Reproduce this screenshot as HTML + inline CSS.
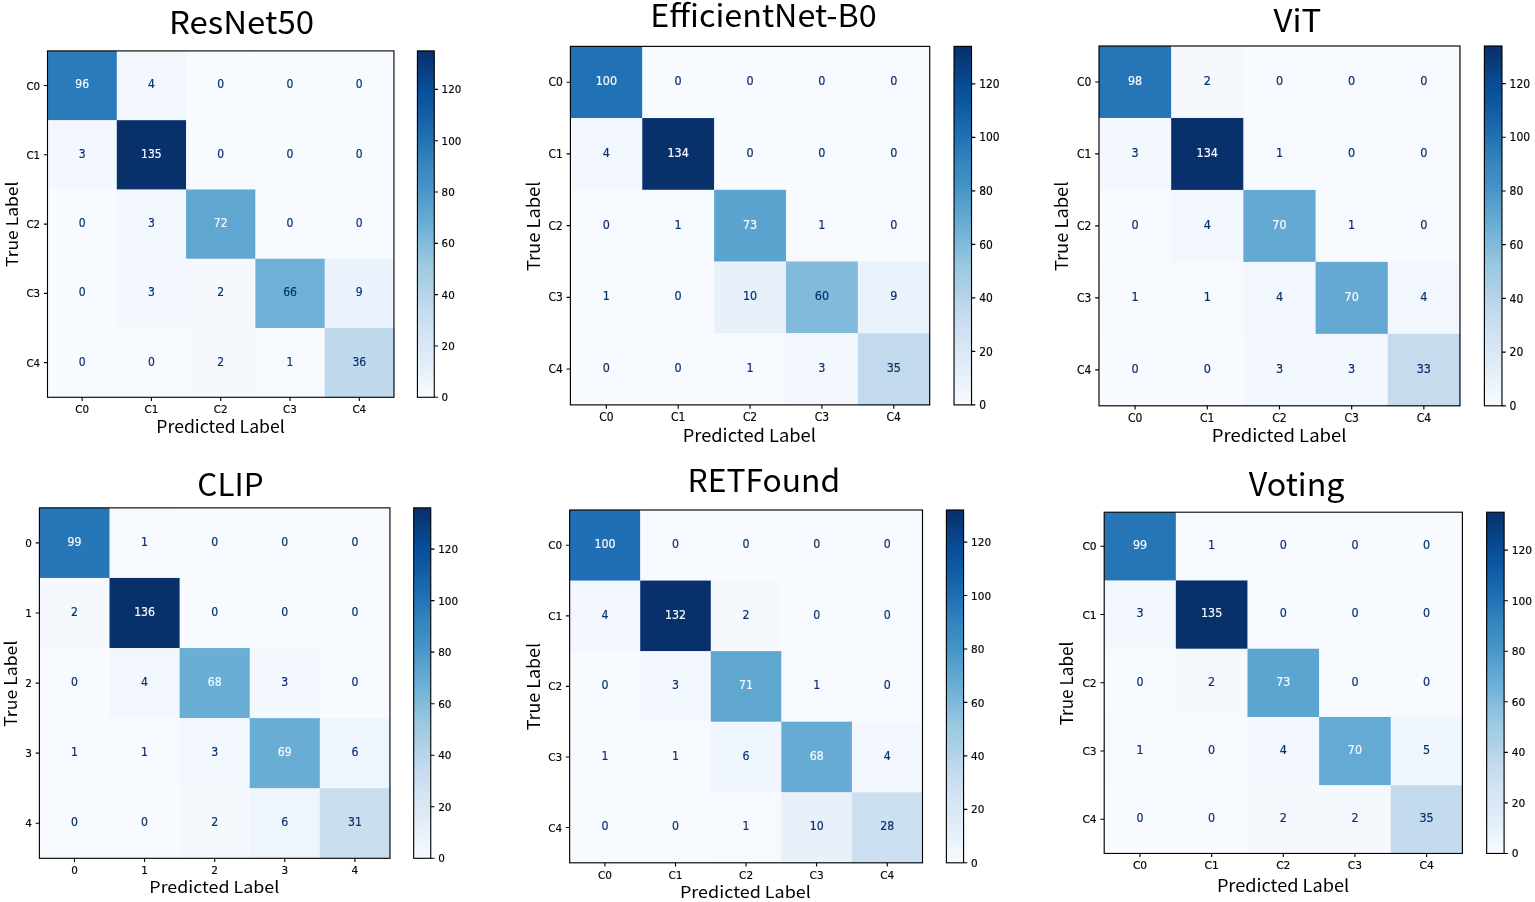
<!DOCTYPE html>
<html><head><meta charset="utf-8"><title>Confusion matrices</title>
<style>html,body{margin:0;padding:0;background:#fff;}svg{display:block;}</style>
</head><body>
<svg width="1535" height="902" viewBox="0 0 1535 902">
<defs><linearGradient id="cbg" x1="0" y1="0" x2="0" y2="1"><stop offset="0" stop-color="#08306b"/><stop offset="0.03" stop-color="#083776"/><stop offset="0.06" stop-color="#084082"/><stop offset="0.09" stop-color="#08488e"/><stop offset="0.12" stop-color="#08509b"/><stop offset="0.16" stop-color="#0e58a2"/><stop offset="0.19" stop-color="#1460a8"/><stop offset="0.22" stop-color="#1a68ae"/><stop offset="0.25" stop-color="#2070b4"/><stop offset="0.28" stop-color="#2979b9"/><stop offset="0.31" stop-color="#3181bd"/><stop offset="0.34" stop-color="#3989c1"/><stop offset="0.38" stop-color="#4191c6"/><stop offset="0.41" stop-color="#4b98ca"/><stop offset="0.44" stop-color="#56a0ce"/><stop offset="0.47" stop-color="#60a7d2"/><stop offset="0.5" stop-color="#6aaed6"/><stop offset="0.53" stop-color="#77b5d9"/><stop offset="0.56" stop-color="#84bcdb"/><stop offset="0.59" stop-color="#91c3de"/><stop offset="0.62" stop-color="#9dcae1"/><stop offset="0.66" stop-color="#a8cee4"/><stop offset="0.69" stop-color="#b2d2e8"/><stop offset="0.72" stop-color="#bcd7eb"/><stop offset="0.75" stop-color="#c6dbef"/><stop offset="0.78" stop-color="#ccdff1"/><stop offset="0.81" stop-color="#d2e3f3"/><stop offset="0.84" stop-color="#d8e7f5"/><stop offset="0.88" stop-color="#deebf7"/><stop offset="0.91" stop-color="#e4eff9"/><stop offset="0.94" stop-color="#eaf3fb"/><stop offset="0.97" stop-color="#f1f7fd"/><stop offset="1" stop-color="#f7fbff"/></linearGradient></defs>
<rect width="1535" height="902" fill="#fff"/>
<g transform="translate(47.5 50.9) scale(0.69290 0.69280)">
<rect x="0" y="0" width="100.6" height="100.6" fill="#2b7bba"/>
<rect x="100" y="0" width="100.6" height="100.6" fill="#f2f7fd"/>
<rect x="200" y="0" width="100.6" height="100.6" fill="#f7fbff"/>
<rect x="300" y="0" width="100.6" height="100.6" fill="#f7fbff"/>
<rect x="400" y="0" width="100.6" height="100.6" fill="#f7fbff"/>
<rect x="0" y="100" width="100.6" height="100.6" fill="#f3f8fe"/>
<rect x="100" y="100" width="100.6" height="100.6" fill="#08306b"/>
<rect x="200" y="100" width="100.6" height="100.6" fill="#f7fbff"/>
<rect x="300" y="100" width="100.6" height="100.6" fill="#f7fbff"/>
<rect x="400" y="100" width="100.6" height="100.6" fill="#f7fbff"/>
<rect x="0" y="200" width="100.6" height="100.6" fill="#f7fbff"/>
<rect x="100" y="200" width="100.6" height="100.6" fill="#f3f8fe"/>
<rect x="200" y="200" width="100.6" height="100.6" fill="#60a7d2"/>
<rect x="300" y="200" width="100.6" height="100.6" fill="#f7fbff"/>
<rect x="400" y="200" width="100.6" height="100.6" fill="#f7fbff"/>
<rect x="0" y="300" width="100.6" height="100.6" fill="#f7fbff"/>
<rect x="100" y="300" width="100.6" height="100.6" fill="#f3f8fe"/>
<rect x="200" y="300" width="100.6" height="100.6" fill="#f5f9fe"/>
<rect x="300" y="300" width="100.6" height="100.6" fill="#6fb0d7"/>
<rect x="400" y="300" width="100.6" height="100.6" fill="#eaf2fb"/>
<rect x="0" y="400" width="100.6" height="100.6" fill="#f7fbff"/>
<rect x="100" y="400" width="100.6" height="100.6" fill="#f7fbff"/>
<rect x="200" y="400" width="100.6" height="100.6" fill="#f5f9fe"/>
<rect x="300" y="400" width="100.6" height="100.6" fill="#f6faff"/>
<rect x="400" y="400" width="100.6" height="100.6" fill="#c1d9ed"/>
<g font-family="'DejaVu Sans', sans-serif" font-size="15.6" text-anchor="middle" stroke-width="0.25">
<text x="50" y="53.73" fill="#f7fbff" stroke="#f7fbff" transform="matrix(1 0 0 1.07 0 -3.364)">96</text>
<text x="150" y="53.73" fill="#08306b" stroke="#08306b" transform="matrix(1 0 0 1.07 0 -3.364)">4</text>
<text x="250" y="53.73" fill="#08306b" stroke="#08306b" transform="matrix(1 0 0 1.07 0 -3.364)">0</text>
<text x="350" y="53.73" fill="#08306b" stroke="#08306b" transform="matrix(1 0 0 1.07 0 -3.364)">0</text>
<text x="450" y="53.73" fill="#08306b" stroke="#08306b" transform="matrix(1 0 0 1.07 0 -3.364)">0</text>
<text x="50" y="153.73" fill="#08306b" stroke="#08306b" transform="matrix(1 0 0 1.07 0 -10.364)">3</text>
<text x="150" y="153.73" fill="#f7fbff" stroke="#f7fbff" transform="matrix(1 0 0 1.07 0 -10.364)">135</text>
<text x="250" y="153.73" fill="#08306b" stroke="#08306b" transform="matrix(1 0 0 1.07 0 -10.364)">0</text>
<text x="350" y="153.73" fill="#08306b" stroke="#08306b" transform="matrix(1 0 0 1.07 0 -10.364)">0</text>
<text x="450" y="153.73" fill="#08306b" stroke="#08306b" transform="matrix(1 0 0 1.07 0 -10.364)">0</text>
<text x="50" y="253.73" fill="#08306b" stroke="#08306b" transform="matrix(1 0 0 1.07 0 -17.364)">0</text>
<text x="150" y="253.73" fill="#08306b" stroke="#08306b" transform="matrix(1 0 0 1.07 0 -17.364)">3</text>
<text x="250" y="253.73" fill="#f7fbff" stroke="#f7fbff" transform="matrix(1 0 0 1.07 0 -17.364)">72</text>
<text x="350" y="253.73" fill="#08306b" stroke="#08306b" transform="matrix(1 0 0 1.07 0 -17.364)">0</text>
<text x="450" y="253.73" fill="#08306b" stroke="#08306b" transform="matrix(1 0 0 1.07 0 -17.364)">0</text>
<text x="50" y="353.73" fill="#08306b" stroke="#08306b" transform="matrix(1 0 0 1.07 0 -24.364)">0</text>
<text x="150" y="353.73" fill="#08306b" stroke="#08306b" transform="matrix(1 0 0 1.07 0 -24.364)">3</text>
<text x="250" y="353.73" fill="#08306b" stroke="#08306b" transform="matrix(1 0 0 1.07 0 -24.364)">2</text>
<text x="350" y="353.73" fill="#08306b" stroke="#08306b" transform="matrix(1 0 0 1.07 0 -24.364)">66</text>
<text x="450" y="353.73" fill="#08306b" stroke="#08306b" transform="matrix(1 0 0 1.07 0 -24.364)">9</text>
<text x="50" y="453.73" fill="#08306b" stroke="#08306b" transform="matrix(1 0 0 1.07 0 -31.364)">0</text>
<text x="150" y="453.73" fill="#08306b" stroke="#08306b" transform="matrix(1 0 0 1.07 0 -31.364)">0</text>
<text x="250" y="453.73" fill="#08306b" stroke="#08306b" transform="matrix(1 0 0 1.07 0 -31.364)">2</text>
<text x="350" y="453.73" fill="#08306b" stroke="#08306b" transform="matrix(1 0 0 1.07 0 -31.364)">1</text>
<text x="450" y="453.73" fill="#08306b" stroke="#08306b" transform="matrix(1 0 0 1.07 0 -31.364)">36</text>
</g>
<rect x="0" y="0" width="500" height="500" fill="none" stroke="#000" stroke-width="1.6"/>
<path d="M50 500v5.3M0 50h-5.3M150 500v5.3M0 150h-5.3M250 500v5.3M0 250h-5.3M350 500v5.3M0 350h-5.3M450 500v5.3M0 450h-5.3M558.2 500h5.3M558.2 425.93h5.3M558.2 351.85h5.3M558.2 277.78h5.3M558.2 203.7h5.3M558.2 129.63h5.3M558.2 55.56h5.3" stroke="#000" stroke-width="1.6" fill="none"/>
<rect x="533.85" y="0" width="24.35" height="500" fill="url(#cbg)" stroke="#000" stroke-width="1.6"/>
<g font-family="'DejaVu Sans', sans-serif" font-size="15.2" fill="#000" stroke="#000" stroke-width="0.22">
<text x="50" y="522.15" text-anchor="middle" transform="matrix(0.98 0 0 1.06 1 -30.997)">C0</text>
<text x="-10.6" y="55.47" text-anchor="end" transform="matrix(0.98 0 0 1.06 -0.212 -2.996)">C0</text>
<text x="150" y="522.15" text-anchor="middle" transform="matrix(0.98 0 0 1.06 3 -30.997)">C1</text>
<text x="-10.6" y="155.47" text-anchor="end" transform="matrix(0.98 0 0 1.06 -0.212 -8.996)">C1</text>
<text x="250" y="522.15" text-anchor="middle" transform="matrix(0.98 0 0 1.06 5 -30.997)">C2</text>
<text x="-10.6" y="255.47" text-anchor="end" transform="matrix(0.98 0 0 1.06 -0.212 -14.996)">C2</text>
<text x="350" y="522.15" text-anchor="middle" transform="matrix(0.98 0 0 1.06 7 -30.997)">C3</text>
<text x="-10.6" y="355.47" text-anchor="end" transform="matrix(0.98 0 0 1.06 -0.212 -20.996)">C3</text>
<text x="450" y="522.15" text-anchor="middle" transform="matrix(0.98 0 0 1.06 9 -30.997)">C4</text>
<text x="-10.6" y="455.47" text-anchor="end" transform="matrix(0.98 0 0 1.06 -0.212 -26.996)">C4</text>
<text x="568.8" y="505.47" transform="matrix(0.98 0 0 1.06 11.376 -29.996)">0</text>
<text x="568.8" y="431.4" transform="matrix(0.98 0 0 1.06 11.376 -25.552)">20</text>
<text x="568.8" y="357.32" transform="matrix(0.98 0 0 1.06 11.376 -21.107)">40</text>
<text x="568.8" y="283.25" transform="matrix(0.98 0 0 1.06 11.376 -16.663)">60</text>
<text x="568.8" y="209.18" transform="matrix(0.98 0 0 1.06 11.376 -12.219)">80</text>
<text x="568.8" y="135.1" transform="matrix(0.98 0 0 1.06 11.376 -7.774)">100</text>
<text x="568.8" y="61.03" transform="matrix(0.98 0 0 1.06 11.376 -3.33)">120</text>
</g>
</g>
<g transform="translate(570.4 46.37) scale(0.71860 0.71706)">
<rect x="0" y="0" width="100.6" height="100.6" fill="#2171b5"/>
<rect x="100" y="0" width="100.6" height="100.6" fill="#f7fbff"/>
<rect x="200" y="0" width="100.6" height="100.6" fill="#f7fbff"/>
<rect x="300" y="0" width="100.6" height="100.6" fill="#f7fbff"/>
<rect x="400" y="0" width="100.6" height="100.6" fill="#f7fbff"/>
<rect x="0" y="100" width="100.6" height="100.6" fill="#f2f7fd"/>
<rect x="100" y="100" width="100.6" height="100.6" fill="#08306b"/>
<rect x="200" y="100" width="100.6" height="100.6" fill="#f7fbff"/>
<rect x="300" y="100" width="100.6" height="100.6" fill="#f7fbff"/>
<rect x="400" y="100" width="100.6" height="100.6" fill="#f7fbff"/>
<rect x="0" y="200" width="100.6" height="100.6" fill="#f7fbff"/>
<rect x="100" y="200" width="100.6" height="100.6" fill="#f6faff"/>
<rect x="200" y="200" width="100.6" height="100.6" fill="#5ca4d0"/>
<rect x="300" y="200" width="100.6" height="100.6" fill="#f6faff"/>
<rect x="400" y="200" width="100.6" height="100.6" fill="#f7fbff"/>
<rect x="0" y="300" width="100.6" height="100.6" fill="#f6faff"/>
<rect x="100" y="300" width="100.6" height="100.6" fill="#f7fbff"/>
<rect x="200" y="300" width="100.6" height="100.6" fill="#e8f1fa"/>
<rect x="300" y="300" width="100.6" height="100.6" fill="#81badb"/>
<rect x="400" y="300" width="100.6" height="100.6" fill="#eaf2fb"/>
<rect x="0" y="400" width="100.6" height="100.6" fill="#f7fbff"/>
<rect x="100" y="400" width="100.6" height="100.6" fill="#f7fbff"/>
<rect x="200" y="400" width="100.6" height="100.6" fill="#f6faff"/>
<rect x="300" y="400" width="100.6" height="100.6" fill="#f3f8fe"/>
<rect x="400" y="400" width="100.6" height="100.6" fill="#c3daee"/>
<g font-family="'DejaVu Sans', sans-serif" font-size="15.6" text-anchor="middle" stroke-width="0.25">
<text x="50" y="53.73" fill="#f7fbff" stroke="#f7fbff" transform="matrix(1 0 0 1.07 0 -3.364)">100</text>
<text x="150" y="53.73" fill="#08306b" stroke="#08306b" transform="matrix(1 0 0 1.07 0 -3.364)">0</text>
<text x="250" y="53.73" fill="#08306b" stroke="#08306b" transform="matrix(1 0 0 1.07 0 -3.364)">0</text>
<text x="350" y="53.73" fill="#08306b" stroke="#08306b" transform="matrix(1 0 0 1.07 0 -3.364)">0</text>
<text x="450" y="53.73" fill="#08306b" stroke="#08306b" transform="matrix(1 0 0 1.07 0 -3.364)">0</text>
<text x="50" y="153.73" fill="#08306b" stroke="#08306b" transform="matrix(1 0 0 1.07 0 -10.364)">4</text>
<text x="150" y="153.73" fill="#f7fbff" stroke="#f7fbff" transform="matrix(1 0 0 1.07 0 -10.364)">134</text>
<text x="250" y="153.73" fill="#08306b" stroke="#08306b" transform="matrix(1 0 0 1.07 0 -10.364)">0</text>
<text x="350" y="153.73" fill="#08306b" stroke="#08306b" transform="matrix(1 0 0 1.07 0 -10.364)">0</text>
<text x="450" y="153.73" fill="#08306b" stroke="#08306b" transform="matrix(1 0 0 1.07 0 -10.364)">0</text>
<text x="50" y="253.73" fill="#08306b" stroke="#08306b" transform="matrix(1 0 0 1.07 0 -17.364)">0</text>
<text x="150" y="253.73" fill="#08306b" stroke="#08306b" transform="matrix(1 0 0 1.07 0 -17.364)">1</text>
<text x="250" y="253.73" fill="#f7fbff" stroke="#f7fbff" transform="matrix(1 0 0 1.07 0 -17.364)">73</text>
<text x="350" y="253.73" fill="#08306b" stroke="#08306b" transform="matrix(1 0 0 1.07 0 -17.364)">1</text>
<text x="450" y="253.73" fill="#08306b" stroke="#08306b" transform="matrix(1 0 0 1.07 0 -17.364)">0</text>
<text x="50" y="353.73" fill="#08306b" stroke="#08306b" transform="matrix(1 0 0 1.07 0 -24.364)">1</text>
<text x="150" y="353.73" fill="#08306b" stroke="#08306b" transform="matrix(1 0 0 1.07 0 -24.364)">0</text>
<text x="250" y="353.73" fill="#08306b" stroke="#08306b" transform="matrix(1 0 0 1.07 0 -24.364)">10</text>
<text x="350" y="353.73" fill="#08306b" stroke="#08306b" transform="matrix(1 0 0 1.07 0 -24.364)">60</text>
<text x="450" y="353.73" fill="#08306b" stroke="#08306b" transform="matrix(1 0 0 1.07 0 -24.364)">9</text>
<text x="50" y="453.73" fill="#08306b" stroke="#08306b" transform="matrix(1 0 0 1.07 0 -31.364)">0</text>
<text x="150" y="453.73" fill="#08306b" stroke="#08306b" transform="matrix(1 0 0 1.07 0 -31.364)">0</text>
<text x="250" y="453.73" fill="#08306b" stroke="#08306b" transform="matrix(1 0 0 1.07 0 -31.364)">1</text>
<text x="350" y="453.73" fill="#08306b" stroke="#08306b" transform="matrix(1 0 0 1.07 0 -31.364)">3</text>
<text x="450" y="453.73" fill="#08306b" stroke="#08306b" transform="matrix(1 0 0 1.07 0 -31.364)">35</text>
</g>
<rect x="0" y="0" width="500" height="500" fill="none" stroke="#000" stroke-width="1.6"/>
<path d="M50 500v5.3M0 50h-5.3M150 500v5.3M0 150h-5.3M250 500v5.3M0 250h-5.3M350 500v5.3M0 350h-5.3M450 500v5.3M0 450h-5.3M558.2 500h5.3M558.2 425.37h5.3M558.2 350.75h5.3M558.2 276.12h5.3M558.2 201.49h5.3M558.2 126.87h5.3M558.2 52.24h5.3" stroke="#000" stroke-width="1.6" fill="none"/>
<rect x="533.85" y="0" width="24.35" height="500" fill="url(#cbg)" stroke="#000" stroke-width="1.6"/>
<g font-family="'DejaVu Sans', sans-serif" font-size="15.2" fill="#000" stroke="#000" stroke-width="0.22">
<text x="50" y="522.15" text-anchor="middle" transform="matrix(0.98 0 0 1.06 1 -30.997)">C0</text>
<text x="-10.6" y="55.47" text-anchor="end" transform="matrix(0.98 0 0 1.06 -0.212 -2.996)">C0</text>
<text x="150" y="522.15" text-anchor="middle" transform="matrix(0.98 0 0 1.06 3 -30.997)">C1</text>
<text x="-10.6" y="155.47" text-anchor="end" transform="matrix(0.98 0 0 1.06 -0.212 -8.996)">C1</text>
<text x="250" y="522.15" text-anchor="middle" transform="matrix(0.98 0 0 1.06 5 -30.997)">C2</text>
<text x="-10.6" y="255.47" text-anchor="end" transform="matrix(0.98 0 0 1.06 -0.212 -14.996)">C2</text>
<text x="350" y="522.15" text-anchor="middle" transform="matrix(0.98 0 0 1.06 7 -30.997)">C3</text>
<text x="-10.6" y="355.47" text-anchor="end" transform="matrix(0.98 0 0 1.06 -0.212 -20.996)">C3</text>
<text x="450" y="522.15" text-anchor="middle" transform="matrix(0.98 0 0 1.06 9 -30.997)">C4</text>
<text x="-10.6" y="455.47" text-anchor="end" transform="matrix(0.98 0 0 1.06 -0.212 -26.996)">C4</text>
<text x="568.8" y="505.47" transform="matrix(0.98 0 0 1.06 11.376 -29.996)">0</text>
<text x="568.8" y="430.85" transform="matrix(0.98 0 0 1.06 11.376 -25.519)">20</text>
<text x="568.8" y="356.22" transform="matrix(0.98 0 0 1.06 11.376 -21.041)">40</text>
<text x="568.8" y="281.59" transform="matrix(0.98 0 0 1.06 11.376 -16.564)">60</text>
<text x="568.8" y="206.96" transform="matrix(0.98 0 0 1.06 11.376 -12.086)">80</text>
<text x="568.8" y="132.34" transform="matrix(0.98 0 0 1.06 11.376 -7.608)">100</text>
<text x="568.8" y="57.71" transform="matrix(0.98 0 0 1.06 11.376 -3.131)">120</text>
</g>
</g>
<g transform="translate(1099 46) scale(0.72190 0.71960)">
<rect x="0" y="0" width="100.6" height="100.6" fill="#2575b7"/>
<rect x="100" y="0" width="100.6" height="100.6" fill="#f5f9fe"/>
<rect x="200" y="0" width="100.6" height="100.6" fill="#f7fbff"/>
<rect x="300" y="0" width="100.6" height="100.6" fill="#f7fbff"/>
<rect x="400" y="0" width="100.6" height="100.6" fill="#f7fbff"/>
<rect x="0" y="100" width="100.6" height="100.6" fill="#f3f8fe"/>
<rect x="100" y="100" width="100.6" height="100.6" fill="#08306b"/>
<rect x="200" y="100" width="100.6" height="100.6" fill="#f6faff"/>
<rect x="300" y="100" width="100.6" height="100.6" fill="#f7fbff"/>
<rect x="400" y="100" width="100.6" height="100.6" fill="#f7fbff"/>
<rect x="0" y="200" width="100.6" height="100.6" fill="#f7fbff"/>
<rect x="100" y="200" width="100.6" height="100.6" fill="#f2f7fd"/>
<rect x="200" y="200" width="100.6" height="100.6" fill="#64a9d3"/>
<rect x="300" y="200" width="100.6" height="100.6" fill="#f6faff"/>
<rect x="400" y="200" width="100.6" height="100.6" fill="#f7fbff"/>
<rect x="0" y="300" width="100.6" height="100.6" fill="#f6faff"/>
<rect x="100" y="300" width="100.6" height="100.6" fill="#f6faff"/>
<rect x="200" y="300" width="100.6" height="100.6" fill="#f2f7fd"/>
<rect x="300" y="300" width="100.6" height="100.6" fill="#64a9d3"/>
<rect x="400" y="300" width="100.6" height="100.6" fill="#f2f7fd"/>
<rect x="0" y="400" width="100.6" height="100.6" fill="#f7fbff"/>
<rect x="100" y="400" width="100.6" height="100.6" fill="#f7fbff"/>
<rect x="200" y="400" width="100.6" height="100.6" fill="#f3f8fe"/>
<rect x="300" y="400" width="100.6" height="100.6" fill="#f3f8fe"/>
<rect x="400" y="400" width="100.6" height="100.6" fill="#c7dbef"/>
<g font-family="'DejaVu Sans', sans-serif" font-size="15.6" text-anchor="middle" stroke-width="0.25">
<text x="50" y="53.73" fill="#f7fbff" stroke="#f7fbff" transform="matrix(1 0 0 1.07 0 -3.364)">98</text>
<text x="150" y="53.73" fill="#08306b" stroke="#08306b" transform="matrix(1 0 0 1.07 0 -3.364)">2</text>
<text x="250" y="53.73" fill="#08306b" stroke="#08306b" transform="matrix(1 0 0 1.07 0 -3.364)">0</text>
<text x="350" y="53.73" fill="#08306b" stroke="#08306b" transform="matrix(1 0 0 1.07 0 -3.364)">0</text>
<text x="450" y="53.73" fill="#08306b" stroke="#08306b" transform="matrix(1 0 0 1.07 0 -3.364)">0</text>
<text x="50" y="153.73" fill="#08306b" stroke="#08306b" transform="matrix(1 0 0 1.07 0 -10.364)">3</text>
<text x="150" y="153.73" fill="#f7fbff" stroke="#f7fbff" transform="matrix(1 0 0 1.07 0 -10.364)">134</text>
<text x="250" y="153.73" fill="#08306b" stroke="#08306b" transform="matrix(1 0 0 1.07 0 -10.364)">1</text>
<text x="350" y="153.73" fill="#08306b" stroke="#08306b" transform="matrix(1 0 0 1.07 0 -10.364)">0</text>
<text x="450" y="153.73" fill="#08306b" stroke="#08306b" transform="matrix(1 0 0 1.07 0 -10.364)">0</text>
<text x="50" y="253.73" fill="#08306b" stroke="#08306b" transform="matrix(1 0 0 1.07 0 -17.364)">0</text>
<text x="150" y="253.73" fill="#08306b" stroke="#08306b" transform="matrix(1 0 0 1.07 0 -17.364)">4</text>
<text x="250" y="253.73" fill="#f7fbff" stroke="#f7fbff" transform="matrix(1 0 0 1.07 0 -17.364)">70</text>
<text x="350" y="253.73" fill="#08306b" stroke="#08306b" transform="matrix(1 0 0 1.07 0 -17.364)">1</text>
<text x="450" y="253.73" fill="#08306b" stroke="#08306b" transform="matrix(1 0 0 1.07 0 -17.364)">0</text>
<text x="50" y="353.73" fill="#08306b" stroke="#08306b" transform="matrix(1 0 0 1.07 0 -24.364)">1</text>
<text x="150" y="353.73" fill="#08306b" stroke="#08306b" transform="matrix(1 0 0 1.07 0 -24.364)">1</text>
<text x="250" y="353.73" fill="#08306b" stroke="#08306b" transform="matrix(1 0 0 1.07 0 -24.364)">4</text>
<text x="350" y="353.73" fill="#f7fbff" stroke="#f7fbff" transform="matrix(1 0 0 1.07 0 -24.364)">70</text>
<text x="450" y="353.73" fill="#08306b" stroke="#08306b" transform="matrix(1 0 0 1.07 0 -24.364)">4</text>
<text x="50" y="453.73" fill="#08306b" stroke="#08306b" transform="matrix(1 0 0 1.07 0 -31.364)">0</text>
<text x="150" y="453.73" fill="#08306b" stroke="#08306b" transform="matrix(1 0 0 1.07 0 -31.364)">0</text>
<text x="250" y="453.73" fill="#08306b" stroke="#08306b" transform="matrix(1 0 0 1.07 0 -31.364)">3</text>
<text x="350" y="453.73" fill="#08306b" stroke="#08306b" transform="matrix(1 0 0 1.07 0 -31.364)">3</text>
<text x="450" y="453.73" fill="#08306b" stroke="#08306b" transform="matrix(1 0 0 1.07 0 -31.364)">33</text>
</g>
<rect x="0" y="0" width="500" height="500" fill="none" stroke="#000" stroke-width="1.6"/>
<path d="M50 500v5.3M0 50h-5.3M150 500v5.3M0 150h-5.3M250 500v5.3M0 250h-5.3M350 500v5.3M0 350h-5.3M450 500v5.3M0 450h-5.3M558.2 500h5.3M558.2 425.37h5.3M558.2 350.75h5.3M558.2 276.12h5.3M558.2 201.49h5.3M558.2 126.87h5.3M558.2 52.24h5.3" stroke="#000" stroke-width="1.6" fill="none"/>
<rect x="533.85" y="0" width="24.35" height="500" fill="url(#cbg)" stroke="#000" stroke-width="1.6"/>
<g font-family="'DejaVu Sans', sans-serif" font-size="15.2" fill="#000" stroke="#000" stroke-width="0.22">
<text x="50" y="522.15" text-anchor="middle" transform="matrix(0.98 0 0 1.06 1 -30.997)">C0</text>
<text x="-10.6" y="55.47" text-anchor="end" transform="matrix(0.98 0 0 1.06 -0.212 -2.996)">C0</text>
<text x="150" y="522.15" text-anchor="middle" transform="matrix(0.98 0 0 1.06 3 -30.997)">C1</text>
<text x="-10.6" y="155.47" text-anchor="end" transform="matrix(0.98 0 0 1.06 -0.212 -8.996)">C1</text>
<text x="250" y="522.15" text-anchor="middle" transform="matrix(0.98 0 0 1.06 5 -30.997)">C2</text>
<text x="-10.6" y="255.47" text-anchor="end" transform="matrix(0.98 0 0 1.06 -0.212 -14.996)">C2</text>
<text x="350" y="522.15" text-anchor="middle" transform="matrix(0.98 0 0 1.06 7 -30.997)">C3</text>
<text x="-10.6" y="355.47" text-anchor="end" transform="matrix(0.98 0 0 1.06 -0.212 -20.996)">C3</text>
<text x="450" y="522.15" text-anchor="middle" transform="matrix(0.98 0 0 1.06 9 -30.997)">C4</text>
<text x="-10.6" y="455.47" text-anchor="end" transform="matrix(0.98 0 0 1.06 -0.212 -26.996)">C4</text>
<text x="568.8" y="505.47" transform="matrix(0.98 0 0 1.06 11.376 -29.996)">0</text>
<text x="568.8" y="430.85" transform="matrix(0.98 0 0 1.06 11.376 -25.519)">20</text>
<text x="568.8" y="356.22" transform="matrix(0.98 0 0 1.06 11.376 -21.041)">40</text>
<text x="568.8" y="281.59" transform="matrix(0.98 0 0 1.06 11.376 -16.564)">60</text>
<text x="568.8" y="206.96" transform="matrix(0.98 0 0 1.06 11.376 -12.086)">80</text>
<text x="568.8" y="132.34" transform="matrix(0.98 0 0 1.06 11.376 -7.608)">100</text>
<text x="568.8" y="57.71" transform="matrix(0.98 0 0 1.06 11.376 -3.131)">120</text>
</g>
</g>
<g transform="translate(39.4 507.85) scale(0.70110 0.70090)">
<rect x="0" y="0" width="100.6" height="100.6" fill="#2676b8"/>
<rect x="100" y="0" width="100.6" height="100.6" fill="#f6faff"/>
<rect x="200" y="0" width="100.6" height="100.6" fill="#f7fbff"/>
<rect x="300" y="0" width="100.6" height="100.6" fill="#f7fbff"/>
<rect x="400" y="0" width="100.6" height="100.6" fill="#f7fbff"/>
<rect x="0" y="100" width="100.6" height="100.6" fill="#f5f9fe"/>
<rect x="100" y="100" width="100.6" height="100.6" fill="#08306b"/>
<rect x="200" y="100" width="100.6" height="100.6" fill="#f7fbff"/>
<rect x="300" y="100" width="100.6" height="100.6" fill="#f7fbff"/>
<rect x="400" y="100" width="100.6" height="100.6" fill="#f7fbff"/>
<rect x="0" y="200" width="100.6" height="100.6" fill="#f7fbff"/>
<rect x="100" y="200" width="100.6" height="100.6" fill="#f2f7fd"/>
<rect x="200" y="200" width="100.6" height="100.6" fill="#6aaed6"/>
<rect x="300" y="200" width="100.6" height="100.6" fill="#f3f8fe"/>
<rect x="400" y="200" width="100.6" height="100.6" fill="#f7fbff"/>
<rect x="0" y="300" width="100.6" height="100.6" fill="#f6faff"/>
<rect x="100" y="300" width="100.6" height="100.6" fill="#f6faff"/>
<rect x="200" y="300" width="100.6" height="100.6" fill="#f3f8fe"/>
<rect x="300" y="300" width="100.6" height="100.6" fill="#69add5"/>
<rect x="400" y="300" width="100.6" height="100.6" fill="#eef5fc"/>
<rect x="0" y="400" width="100.6" height="100.6" fill="#f7fbff"/>
<rect x="100" y="400" width="100.6" height="100.6" fill="#f7fbff"/>
<rect x="200" y="400" width="100.6" height="100.6" fill="#f5f9fe"/>
<rect x="300" y="400" width="100.6" height="100.6" fill="#eef5fc"/>
<rect x="400" y="400" width="100.6" height="100.6" fill="#cadef0"/>
<g font-family="'DejaVu Sans', sans-serif" font-size="15.6" text-anchor="middle" stroke-width="0.25">
<text x="50" y="53.73" fill="#f7fbff" stroke="#f7fbff" transform="matrix(1 0 0 1.07 0 -3.364)">99</text>
<text x="150" y="53.73" fill="#08306b" stroke="#08306b" transform="matrix(1 0 0 1.07 0 -3.364)">1</text>
<text x="250" y="53.73" fill="#08306b" stroke="#08306b" transform="matrix(1 0 0 1.07 0 -3.364)">0</text>
<text x="350" y="53.73" fill="#08306b" stroke="#08306b" transform="matrix(1 0 0 1.07 0 -3.364)">0</text>
<text x="450" y="53.73" fill="#08306b" stroke="#08306b" transform="matrix(1 0 0 1.07 0 -3.364)">0</text>
<text x="50" y="153.73" fill="#08306b" stroke="#08306b" transform="matrix(1 0 0 1.07 0 -10.364)">2</text>
<text x="150" y="153.73" fill="#f7fbff" stroke="#f7fbff" transform="matrix(1 0 0 1.07 0 -10.364)">136</text>
<text x="250" y="153.73" fill="#08306b" stroke="#08306b" transform="matrix(1 0 0 1.07 0 -10.364)">0</text>
<text x="350" y="153.73" fill="#08306b" stroke="#08306b" transform="matrix(1 0 0 1.07 0 -10.364)">0</text>
<text x="450" y="153.73" fill="#08306b" stroke="#08306b" transform="matrix(1 0 0 1.07 0 -10.364)">0</text>
<text x="50" y="253.73" fill="#08306b" stroke="#08306b" transform="matrix(1 0 0 1.07 0 -17.364)">0</text>
<text x="150" y="253.73" fill="#08306b" stroke="#08306b" transform="matrix(1 0 0 1.07 0 -17.364)">4</text>
<text x="250" y="253.73" fill="#f7fbff" stroke="#f7fbff" transform="matrix(1 0 0 1.07 0 -17.364)">68</text>
<text x="350" y="253.73" fill="#08306b" stroke="#08306b" transform="matrix(1 0 0 1.07 0 -17.364)">3</text>
<text x="450" y="253.73" fill="#08306b" stroke="#08306b" transform="matrix(1 0 0 1.07 0 -17.364)">0</text>
<text x="50" y="353.73" fill="#08306b" stroke="#08306b" transform="matrix(1 0 0 1.07 0 -24.364)">1</text>
<text x="150" y="353.73" fill="#08306b" stroke="#08306b" transform="matrix(1 0 0 1.07 0 -24.364)">1</text>
<text x="250" y="353.73" fill="#08306b" stroke="#08306b" transform="matrix(1 0 0 1.07 0 -24.364)">3</text>
<text x="350" y="353.73" fill="#f7fbff" stroke="#f7fbff" transform="matrix(1 0 0 1.07 0 -24.364)">69</text>
<text x="450" y="353.73" fill="#08306b" stroke="#08306b" transform="matrix(1 0 0 1.07 0 -24.364)">6</text>
<text x="50" y="453.73" fill="#08306b" stroke="#08306b" transform="matrix(1 0 0 1.07 0 -31.364)">0</text>
<text x="150" y="453.73" fill="#08306b" stroke="#08306b" transform="matrix(1 0 0 1.07 0 -31.364)">0</text>
<text x="250" y="453.73" fill="#08306b" stroke="#08306b" transform="matrix(1 0 0 1.07 0 -31.364)">2</text>
<text x="350" y="453.73" fill="#08306b" stroke="#08306b" transform="matrix(1 0 0 1.07 0 -31.364)">6</text>
<text x="450" y="453.73" fill="#08306b" stroke="#08306b" transform="matrix(1 0 0 1.07 0 -31.364)">31</text>
</g>
<rect x="0" y="0" width="500" height="500" fill="none" stroke="#000" stroke-width="1.6"/>
<path d="M50 500v5.3M0 50h-5.3M150 500v5.3M0 150h-5.3M250 500v5.3M0 250h-5.3M350 500v5.3M0 350h-5.3M450 500v5.3M0 450h-5.3M558.2 500h5.3M558.2 426.47h5.3M558.2 352.94h5.3M558.2 279.41h5.3M558.2 205.88h5.3M558.2 132.35h5.3M558.2 58.82h5.3" stroke="#000" stroke-width="1.6" fill="none"/>
<rect x="533.85" y="0" width="24.35" height="500" fill="url(#cbg)" stroke="#000" stroke-width="1.6"/>
<g font-family="'DejaVu Sans', sans-serif" font-size="15.2" fill="#000" stroke="#000" stroke-width="0.22">
<text x="50" y="522.15" text-anchor="middle" transform="matrix(0.98 0 0 1.06 1 -30.997)">0</text>
<text x="-10.6" y="55.47" text-anchor="end" transform="matrix(0.98 0 0 1.06 -0.212 -2.996)">0</text>
<text x="150" y="522.15" text-anchor="middle" transform="matrix(0.98 0 0 1.06 3 -30.997)">1</text>
<text x="-10.6" y="155.47" text-anchor="end" transform="matrix(0.98 0 0 1.06 -0.212 -8.996)">1</text>
<text x="250" y="522.15" text-anchor="middle" transform="matrix(0.98 0 0 1.06 5 -30.997)">2</text>
<text x="-10.6" y="255.47" text-anchor="end" transform="matrix(0.98 0 0 1.06 -0.212 -14.996)">2</text>
<text x="350" y="522.15" text-anchor="middle" transform="matrix(0.98 0 0 1.06 7 -30.997)">3</text>
<text x="-10.6" y="355.47" text-anchor="end" transform="matrix(0.98 0 0 1.06 -0.212 -20.996)">3</text>
<text x="450" y="522.15" text-anchor="middle" transform="matrix(0.98 0 0 1.06 9 -30.997)">4</text>
<text x="-10.6" y="455.47" text-anchor="end" transform="matrix(0.98 0 0 1.06 -0.212 -26.996)">4</text>
<text x="568.8" y="505.47" transform="matrix(0.98 0 0 1.06 11.376 -29.996)">0</text>
<text x="568.8" y="431.94" transform="matrix(0.98 0 0 1.06 11.376 -25.585)">20</text>
<text x="568.8" y="358.41" transform="matrix(0.98 0 0 1.06 11.376 -21.173)">40</text>
<text x="568.8" y="284.88" transform="matrix(0.98 0 0 1.06 11.376 -16.761)">60</text>
<text x="568.8" y="211.35" transform="matrix(0.98 0 0 1.06 11.376 -12.349)">80</text>
<text x="568.8" y="137.82" transform="matrix(0.98 0 0 1.06 11.376 -7.938)">100</text>
<text x="568.8" y="64.3" transform="matrix(0.98 0 0 1.06 11.376 -3.526)">120</text>
</g>
</g>
<g transform="translate(569.65 510) scale(0.70570 0.70560)">
<rect x="0" y="0" width="100.6" height="100.6" fill="#206fb4"/>
<rect x="100" y="0" width="100.6" height="100.6" fill="#f7fbff"/>
<rect x="200" y="0" width="100.6" height="100.6" fill="#f7fbff"/>
<rect x="300" y="0" width="100.6" height="100.6" fill="#f7fbff"/>
<rect x="400" y="0" width="100.6" height="100.6" fill="#f7fbff"/>
<rect x="0" y="100" width="100.6" height="100.6" fill="#f2f7fd"/>
<rect x="100" y="100" width="100.6" height="100.6" fill="#08306b"/>
<rect x="200" y="100" width="100.6" height="100.6" fill="#f5f9fe"/>
<rect x="300" y="100" width="100.6" height="100.6" fill="#f7fbff"/>
<rect x="400" y="100" width="100.6" height="100.6" fill="#f7fbff"/>
<rect x="0" y="200" width="100.6" height="100.6" fill="#f7fbff"/>
<rect x="100" y="200" width="100.6" height="100.6" fill="#f3f8fe"/>
<rect x="200" y="200" width="100.6" height="100.6" fill="#5fa6d1"/>
<rect x="300" y="200" width="100.6" height="100.6" fill="#f6faff"/>
<rect x="400" y="200" width="100.6" height="100.6" fill="#f7fbff"/>
<rect x="0" y="300" width="100.6" height="100.6" fill="#f6faff"/>
<rect x="100" y="300" width="100.6" height="100.6" fill="#f6faff"/>
<rect x="200" y="300" width="100.6" height="100.6" fill="#eef5fc"/>
<rect x="300" y="300" width="100.6" height="100.6" fill="#66abd4"/>
<rect x="400" y="300" width="100.6" height="100.6" fill="#f2f7fd"/>
<rect x="0" y="400" width="100.6" height="100.6" fill="#f7fbff"/>
<rect x="100" y="400" width="100.6" height="100.6" fill="#f7fbff"/>
<rect x="200" y="400" width="100.6" height="100.6" fill="#f6faff"/>
<rect x="300" y="400" width="100.6" height="100.6" fill="#e8f1fa"/>
<rect x="400" y="400" width="100.6" height="100.6" fill="#cde0f1"/>
<g font-family="'DejaVu Sans', sans-serif" font-size="15.6" text-anchor="middle" stroke-width="0.25">
<text x="50" y="53.73" fill="#f7fbff" stroke="#f7fbff" transform="matrix(1 0 0 1.07 0 -3.364)">100</text>
<text x="150" y="53.73" fill="#08306b" stroke="#08306b" transform="matrix(1 0 0 1.07 0 -3.364)">0</text>
<text x="250" y="53.73" fill="#08306b" stroke="#08306b" transform="matrix(1 0 0 1.07 0 -3.364)">0</text>
<text x="350" y="53.73" fill="#08306b" stroke="#08306b" transform="matrix(1 0 0 1.07 0 -3.364)">0</text>
<text x="450" y="53.73" fill="#08306b" stroke="#08306b" transform="matrix(1 0 0 1.07 0 -3.364)">0</text>
<text x="50" y="153.73" fill="#08306b" stroke="#08306b" transform="matrix(1 0 0 1.07 0 -10.364)">4</text>
<text x="150" y="153.73" fill="#f7fbff" stroke="#f7fbff" transform="matrix(1 0 0 1.07 0 -10.364)">132</text>
<text x="250" y="153.73" fill="#08306b" stroke="#08306b" transform="matrix(1 0 0 1.07 0 -10.364)">2</text>
<text x="350" y="153.73" fill="#08306b" stroke="#08306b" transform="matrix(1 0 0 1.07 0 -10.364)">0</text>
<text x="450" y="153.73" fill="#08306b" stroke="#08306b" transform="matrix(1 0 0 1.07 0 -10.364)">0</text>
<text x="50" y="253.73" fill="#08306b" stroke="#08306b" transform="matrix(1 0 0 1.07 0 -17.364)">0</text>
<text x="150" y="253.73" fill="#08306b" stroke="#08306b" transform="matrix(1 0 0 1.07 0 -17.364)">3</text>
<text x="250" y="253.73" fill="#f7fbff" stroke="#f7fbff" transform="matrix(1 0 0 1.07 0 -17.364)">71</text>
<text x="350" y="253.73" fill="#08306b" stroke="#08306b" transform="matrix(1 0 0 1.07 0 -17.364)">1</text>
<text x="450" y="253.73" fill="#08306b" stroke="#08306b" transform="matrix(1 0 0 1.07 0 -17.364)">0</text>
<text x="50" y="353.73" fill="#08306b" stroke="#08306b" transform="matrix(1 0 0 1.07 0 -24.364)">1</text>
<text x="150" y="353.73" fill="#08306b" stroke="#08306b" transform="matrix(1 0 0 1.07 0 -24.364)">1</text>
<text x="250" y="353.73" fill="#08306b" stroke="#08306b" transform="matrix(1 0 0 1.07 0 -24.364)">6</text>
<text x="350" y="353.73" fill="#f7fbff" stroke="#f7fbff" transform="matrix(1 0 0 1.07 0 -24.364)">68</text>
<text x="450" y="353.73" fill="#08306b" stroke="#08306b" transform="matrix(1 0 0 1.07 0 -24.364)">4</text>
<text x="50" y="453.73" fill="#08306b" stroke="#08306b" transform="matrix(1 0 0 1.07 0 -31.364)">0</text>
<text x="150" y="453.73" fill="#08306b" stroke="#08306b" transform="matrix(1 0 0 1.07 0 -31.364)">0</text>
<text x="250" y="453.73" fill="#08306b" stroke="#08306b" transform="matrix(1 0 0 1.07 0 -31.364)">1</text>
<text x="350" y="453.73" fill="#08306b" stroke="#08306b" transform="matrix(1 0 0 1.07 0 -31.364)">10</text>
<text x="450" y="453.73" fill="#08306b" stroke="#08306b" transform="matrix(1 0 0 1.07 0 -31.364)">28</text>
</g>
<rect x="0" y="0" width="500" height="500" fill="none" stroke="#000" stroke-width="1.6"/>
<path d="M50 500v5.3M0 50h-5.3M150 500v5.3M0 150h-5.3M250 500v5.3M0 250h-5.3M350 500v5.3M0 350h-5.3M450 500v5.3M0 450h-5.3M558.2 500h5.3M558.2 424.24h5.3M558.2 348.48h5.3M558.2 272.73h5.3M558.2 196.97h5.3M558.2 121.21h5.3M558.2 45.45h5.3" stroke="#000" stroke-width="1.6" fill="none"/>
<rect x="533.85" y="0" width="24.35" height="500" fill="url(#cbg)" stroke="#000" stroke-width="1.6"/>
<g font-family="'DejaVu Sans', sans-serif" font-size="15.2" fill="#000" stroke="#000" stroke-width="0.22">
<text x="50" y="522.15" text-anchor="middle" transform="matrix(0.98 0 0 1.06 1 -30.997)">C0</text>
<text x="-10.6" y="55.47" text-anchor="end" transform="matrix(0.98 0 0 1.06 -0.212 -2.996)">C0</text>
<text x="150" y="522.15" text-anchor="middle" transform="matrix(0.98 0 0 1.06 3 -30.997)">C1</text>
<text x="-10.6" y="155.47" text-anchor="end" transform="matrix(0.98 0 0 1.06 -0.212 -8.996)">C1</text>
<text x="250" y="522.15" text-anchor="middle" transform="matrix(0.98 0 0 1.06 5 -30.997)">C2</text>
<text x="-10.6" y="255.47" text-anchor="end" transform="matrix(0.98 0 0 1.06 -0.212 -14.996)">C2</text>
<text x="350" y="522.15" text-anchor="middle" transform="matrix(0.98 0 0 1.06 7 -30.997)">C3</text>
<text x="-10.6" y="355.47" text-anchor="end" transform="matrix(0.98 0 0 1.06 -0.212 -20.996)">C3</text>
<text x="450" y="522.15" text-anchor="middle" transform="matrix(0.98 0 0 1.06 9 -30.997)">C4</text>
<text x="-10.6" y="455.47" text-anchor="end" transform="matrix(0.98 0 0 1.06 -0.212 -26.996)">C4</text>
<text x="568.8" y="505.47" transform="matrix(0.98 0 0 1.06 11.376 -29.996)">0</text>
<text x="568.8" y="429.71" transform="matrix(0.98 0 0 1.06 11.376 -25.451)">20</text>
<text x="568.8" y="353.96" transform="matrix(0.98 0 0 1.06 11.376 -20.905)">40</text>
<text x="568.8" y="278.2" transform="matrix(0.98 0 0 1.06 11.376 -16.36)">60</text>
<text x="568.8" y="202.44" transform="matrix(0.98 0 0 1.06 11.376 -11.815)">80</text>
<text x="568.8" y="126.68" transform="matrix(0.98 0 0 1.06 11.376 -7.269)">100</text>
<text x="568.8" y="50.93" transform="matrix(0.98 0 0 1.06 11.376 -2.724)">120</text>
</g>
</g>
<g transform="translate(1104.2 512.2) scale(0.71640 0.68250)">
<rect x="0" y="0" width="100.6" height="100.6" fill="#2575b7"/>
<rect x="100" y="0" width="100.6" height="100.6" fill="#f6faff"/>
<rect x="200" y="0" width="100.6" height="100.6" fill="#f7fbff"/>
<rect x="300" y="0" width="100.6" height="100.6" fill="#f7fbff"/>
<rect x="400" y="0" width="100.6" height="100.6" fill="#f7fbff"/>
<rect x="0" y="100" width="100.6" height="100.6" fill="#f3f8fe"/>
<rect x="100" y="100" width="100.6" height="100.6" fill="#08306b"/>
<rect x="200" y="100" width="100.6" height="100.6" fill="#f7fbff"/>
<rect x="300" y="100" width="100.6" height="100.6" fill="#f7fbff"/>
<rect x="400" y="100" width="100.6" height="100.6" fill="#f7fbff"/>
<rect x="0" y="200" width="100.6" height="100.6" fill="#f7fbff"/>
<rect x="100" y="200" width="100.6" height="100.6" fill="#f5f9fe"/>
<rect x="200" y="200" width="100.6" height="100.6" fill="#5da5d1"/>
<rect x="300" y="200" width="100.6" height="100.6" fill="#f7fbff"/>
<rect x="400" y="200" width="100.6" height="100.6" fill="#f7fbff"/>
<rect x="0" y="300" width="100.6" height="100.6" fill="#f6faff"/>
<rect x="100" y="300" width="100.6" height="100.6" fill="#f7fbff"/>
<rect x="200" y="300" width="100.6" height="100.6" fill="#f2f7fd"/>
<rect x="300" y="300" width="100.6" height="100.6" fill="#65aad4"/>
<rect x="400" y="300" width="100.6" height="100.6" fill="#f0f6fd"/>
<rect x="0" y="400" width="100.6" height="100.6" fill="#f7fbff"/>
<rect x="100" y="400" width="100.6" height="100.6" fill="#f7fbff"/>
<rect x="200" y="400" width="100.6" height="100.6" fill="#f5f9fe"/>
<rect x="300" y="400" width="100.6" height="100.6" fill="#f5f9fe"/>
<rect x="400" y="400" width="100.6" height="100.6" fill="#c3daee"/>
<g font-family="'DejaVu Sans', sans-serif" font-size="15.6" text-anchor="middle" stroke-width="0.25">
<text x="50" y="53.73" fill="#f7fbff" stroke="#f7fbff" transform="matrix(1 0 0 1.07 0 -3.364)">99</text>
<text x="150" y="53.73" fill="#08306b" stroke="#08306b" transform="matrix(1 0 0 1.07 0 -3.364)">1</text>
<text x="250" y="53.73" fill="#08306b" stroke="#08306b" transform="matrix(1 0 0 1.07 0 -3.364)">0</text>
<text x="350" y="53.73" fill="#08306b" stroke="#08306b" transform="matrix(1 0 0 1.07 0 -3.364)">0</text>
<text x="450" y="53.73" fill="#08306b" stroke="#08306b" transform="matrix(1 0 0 1.07 0 -3.364)">0</text>
<text x="50" y="153.73" fill="#08306b" stroke="#08306b" transform="matrix(1 0 0 1.07 0 -10.364)">3</text>
<text x="150" y="153.73" fill="#f7fbff" stroke="#f7fbff" transform="matrix(1 0 0 1.07 0 -10.364)">135</text>
<text x="250" y="153.73" fill="#08306b" stroke="#08306b" transform="matrix(1 0 0 1.07 0 -10.364)">0</text>
<text x="350" y="153.73" fill="#08306b" stroke="#08306b" transform="matrix(1 0 0 1.07 0 -10.364)">0</text>
<text x="450" y="153.73" fill="#08306b" stroke="#08306b" transform="matrix(1 0 0 1.07 0 -10.364)">0</text>
<text x="50" y="253.73" fill="#08306b" stroke="#08306b" transform="matrix(1 0 0 1.07 0 -17.364)">0</text>
<text x="150" y="253.73" fill="#08306b" stroke="#08306b" transform="matrix(1 0 0 1.07 0 -17.364)">2</text>
<text x="250" y="253.73" fill="#f7fbff" stroke="#f7fbff" transform="matrix(1 0 0 1.07 0 -17.364)">73</text>
<text x="350" y="253.73" fill="#08306b" stroke="#08306b" transform="matrix(1 0 0 1.07 0 -17.364)">0</text>
<text x="450" y="253.73" fill="#08306b" stroke="#08306b" transform="matrix(1 0 0 1.07 0 -17.364)">0</text>
<text x="50" y="353.73" fill="#08306b" stroke="#08306b" transform="matrix(1 0 0 1.07 0 -24.364)">1</text>
<text x="150" y="353.73" fill="#08306b" stroke="#08306b" transform="matrix(1 0 0 1.07 0 -24.364)">0</text>
<text x="250" y="353.73" fill="#08306b" stroke="#08306b" transform="matrix(1 0 0 1.07 0 -24.364)">4</text>
<text x="350" y="353.73" fill="#f7fbff" stroke="#f7fbff" transform="matrix(1 0 0 1.07 0 -24.364)">70</text>
<text x="450" y="353.73" fill="#08306b" stroke="#08306b" transform="matrix(1 0 0 1.07 0 -24.364)">5</text>
<text x="50" y="453.73" fill="#08306b" stroke="#08306b" transform="matrix(1 0 0 1.07 0 -31.364)">0</text>
<text x="150" y="453.73" fill="#08306b" stroke="#08306b" transform="matrix(1 0 0 1.07 0 -31.364)">0</text>
<text x="250" y="453.73" fill="#08306b" stroke="#08306b" transform="matrix(1 0 0 1.07 0 -31.364)">2</text>
<text x="350" y="453.73" fill="#08306b" stroke="#08306b" transform="matrix(1 0 0 1.07 0 -31.364)">2</text>
<text x="450" y="453.73" fill="#08306b" stroke="#08306b" transform="matrix(1 0 0 1.07 0 -31.364)">35</text>
</g>
<rect x="0" y="0" width="500" height="500" fill="none" stroke="#000" stroke-width="1.6"/>
<path d="M50 500v5.3M0 50h-5.3M150 500v5.3M0 150h-5.3M250 500v5.3M0 250h-5.3M350 500v5.3M0 350h-5.3M450 500v5.3M0 450h-5.3M558.2 500h5.3M558.2 425.93h5.3M558.2 351.85h5.3M558.2 277.78h5.3M558.2 203.7h5.3M558.2 129.63h5.3M558.2 55.56h5.3" stroke="#000" stroke-width="1.6" fill="none"/>
<rect x="533.85" y="0" width="24.35" height="500" fill="url(#cbg)" stroke="#000" stroke-width="1.6"/>
<g font-family="'DejaVu Sans', sans-serif" font-size="15.2" fill="#000" stroke="#000" stroke-width="0.22">
<text x="50" y="522.15" text-anchor="middle" transform="matrix(0.98 0 0 1.06 1 -30.997)">C0</text>
<text x="-10.6" y="55.47" text-anchor="end" transform="matrix(0.98 0 0 1.06 -0.212 -2.996)">C0</text>
<text x="150" y="522.15" text-anchor="middle" transform="matrix(0.98 0 0 1.06 3 -30.997)">C1</text>
<text x="-10.6" y="155.47" text-anchor="end" transform="matrix(0.98 0 0 1.06 -0.212 -8.996)">C1</text>
<text x="250" y="522.15" text-anchor="middle" transform="matrix(0.98 0 0 1.06 5 -30.997)">C2</text>
<text x="-10.6" y="255.47" text-anchor="end" transform="matrix(0.98 0 0 1.06 -0.212 -14.996)">C2</text>
<text x="350" y="522.15" text-anchor="middle" transform="matrix(0.98 0 0 1.06 7 -30.997)">C3</text>
<text x="-10.6" y="355.47" text-anchor="end" transform="matrix(0.98 0 0 1.06 -0.212 -20.996)">C3</text>
<text x="450" y="522.15" text-anchor="middle" transform="matrix(0.98 0 0 1.06 9 -30.997)">C4</text>
<text x="-10.6" y="455.47" text-anchor="end" transform="matrix(0.98 0 0 1.06 -0.212 -26.996)">C4</text>
<text x="568.8" y="505.47" transform="matrix(0.98 0 0 1.06 11.376 -29.996)">0</text>
<text x="568.8" y="431.4" transform="matrix(0.98 0 0 1.06 11.376 -25.552)">20</text>
<text x="568.8" y="357.32" transform="matrix(0.98 0 0 1.06 11.376 -21.107)">40</text>
<text x="568.8" y="283.25" transform="matrix(0.98 0 0 1.06 11.376 -16.663)">60</text>
<text x="568.8" y="209.18" transform="matrix(0.98 0 0 1.06 11.376 -12.219)">80</text>
<text x="568.8" y="135.1" transform="matrix(0.98 0 0 1.06 11.376 -7.774)">100</text>
<text x="568.8" y="61.03" transform="matrix(0.98 0 0 1.06 11.376 -3.33)">120</text>
</g>
</g>
<g font-family="'Noto Sans CJK SC', 'Liberation Sans', sans-serif" font-weight="400" text-anchor="middle" fill="#000">
<text lengthAdjust="spacingAndGlyphs" x="241.5" y="33.8" font-size="31.79" textLength="144.99">ResNet50</text>
<text lengthAdjust="spacingAndGlyphs" x="220.55" y="432.6" font-size="16.92" font-weight="400" textLength="128.37">Predicted Label</text>
<text lengthAdjust="spacingAndGlyphs" transform="translate(18.3 224.25) rotate(-90)" font-size="16.37" font-weight="400" textLength="85.33">True Label</text>
<text lengthAdjust="spacingAndGlyphs" x="763.45" y="26.9" font-size="31.11" textLength="226.23">EfficientNet-B0</text>
<text lengthAdjust="spacingAndGlyphs" x="749.3" y="441.5" font-size="17.87" font-weight="400" textLength="133.29">Predicted Label</text>
<text lengthAdjust="spacingAndGlyphs" transform="translate(540.2 226.3) rotate(-90)" font-size="17.74" font-weight="400" textLength="89.44">True Label</text>
<text lengthAdjust="spacingAndGlyphs" x="1297.45" y="31.9" font-size="31.24" textLength="47.79">ViT</text>
<text lengthAdjust="spacingAndGlyphs" x="1279.15" y="441.9" font-size="16.92" font-weight="400" textLength="134.77">Predicted Label</text>
<text lengthAdjust="spacingAndGlyphs" transform="translate(1068.2 226.3) rotate(-90)" font-size="17.46" font-weight="400" textLength="89.44">True Label</text>
<text lengthAdjust="spacingAndGlyphs" x="230.45" y="496" font-size="31.24" textLength="66.12">CLIP</text>
<text lengthAdjust="spacingAndGlyphs" x="214.3" y="893.4" font-size="16.1" font-weight="400" textLength="129.87">Predicted Label</text>
<text lengthAdjust="spacingAndGlyphs" transform="translate(16.5 683.7) rotate(-90)" font-size="16.64" font-weight="400" textLength="86.23">True Label</text>
<text lengthAdjust="spacingAndGlyphs" x="763.85" y="491.8" font-size="31.38" textLength="152.57">RETFound</text>
<text lengthAdjust="spacingAndGlyphs" x="745.45" y="897.8" font-size="16.1" font-weight="400" textLength="130.98">Predicted Label</text>
<text lengthAdjust="spacingAndGlyphs" transform="translate(540 686.6) rotate(-90)" font-size="17.46" font-weight="400" textLength="87.25">True Label</text>
<text lengthAdjust="spacingAndGlyphs" x="1296.7" y="496.3" font-size="31.92" textLength="95.62">Voting</text>
<text lengthAdjust="spacingAndGlyphs" x="1283" y="891.8" font-size="16.92" font-weight="400" textLength="132.25">Predicted Label</text>
<text lengthAdjust="spacingAndGlyphs" transform="translate(1073.2 683.45) rotate(-90)" font-size="17.46" font-weight="400" textLength="83.75">True Label</text>
</g>
</svg>
</body></html>
